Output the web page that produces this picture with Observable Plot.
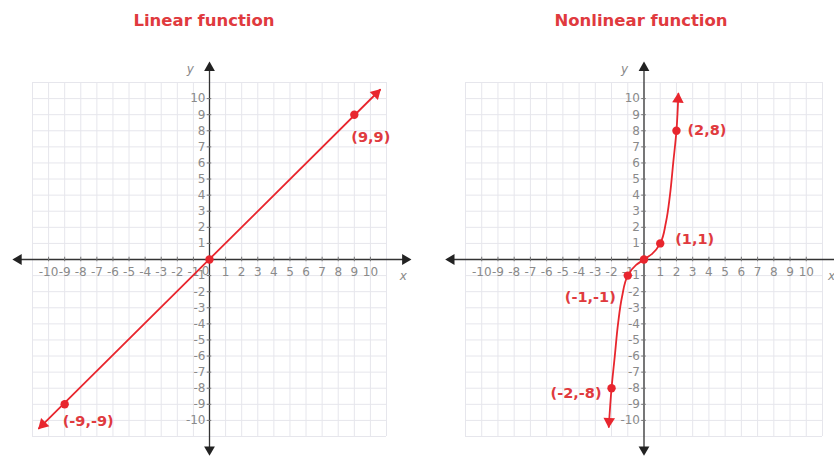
<!DOCTYPE html>
<html>
<head>
<meta charset="utf-8">
<script src="https://cdn.jsdelivr.net/npm/d3@7"></script>
<script src="https://cdn.jsdelivr.net/npm/@observablehq/plot@0.6"></script>
<style>
  html, body { margin: 0; padding: 0; background: #fff; }
  #wrap { position: relative; width: 834px; height: 457px; overflow: hidden; }
  .panel { position: absolute; top: 0; width: 417px; height: 457px; }
  .panel svg { position: absolute; top: 40px; left: 0; }
  .title {
    position: absolute; top: 11px; width: 240px; text-align: center;
    font: bold 16.5px "DejaVu Sans", Verdana, sans-serif; color: #e03a3e;
  }
</style>
</head>
<body>
<div id="wrap"></div>
<script>
// Panel titles
const titles = ["Linear function", "Nonlinear function"];

// Axis ticks and grid lines (integer units)
const tickValues = [-10, -9, -8, -7, -6, -5, -4, -3, -2, -1, 1, 2, 3, 4, 5, 6, 7, 8, 9, 10];
const gridValues = [-11, -10, -9, -8, -7, -6, -5, -4, -3, -2, -1, 0, 1, 2, 3, 4, 5, 6, 7, 8, 9, 10, 11];

// Linear function y = x: drawn segment and labelled points
const linearX = [-10.6, 10.6];
const linearY = [-10.5, 10.55];
const linearPtX = [-9, 0, 9];
const linearPtY = [-9, 0, 9];
const linearLabels = ["(-9,-9)", "", "(9,9)"];

// Nonlinear function: curve samples and labelled points
const cubicX = [-2.17, -2, -1.8, -1.6, -1.35, -1, -0.5, 0, 0.5, 1, 1.35, 1.6, 1.8, 2, 2.12];
const cubicY = [-10.4, -8, -6, -4, -2.3, -1, -0.35, 0, 0.35, 1, 2.3, 4, 6, 8, 10.3];
const cubicPtX = [-2, -1, 0, 1, 2];
const cubicPtY = [-8, -1, 0, 1, 8];
const cubicLabels = ["(-2,-8)", "(-1,-1)", "", "(1,1)", "(2,8)"];

const RED = "#e8262e";
const LABEL_RED = "#e03a3e";
const GRAY = "#8a8a8a";
const fontFamily = '"DejaVu Sans", Verdana, sans-serif';

// Arrowhead triangle centred a few pixels behind its tip
function head(tipX, tipY, angleDeg, pxPerUnitX, pxPerUnitY, back = 6.2) {
  const a = angleDeg * Math.PI / 180;
  return {x: tipX - Math.sin(a) * back / pxPerUnitX, y: tipY - Math.cos(a) * back / pxPerUnitY, angle: angleDeg};
}

function panel({left, titleCenter, marginLeft, marginRight, title, showZero, xNameX, curve, curveType, points, labelOffsets, redHeads}) {
  const width = 417, height = 417, marginTop = 42, marginBottom = 21;
  const pxX = (width - marginLeft - marginRight) / 22;
  const pxY = (height - marginTop - marginBottom) / 22;

  const axisHeads = [
    head(12.55, 0, 90, pxX, pxY),
    head(-12.25, 0, 270, pxX, pxY),
    head(0, 12.3, 0, pxX, pxY),
    head(0, -12.2, 180, pxX, pxY)
  ];
  const reds = redHeads.map(([x, y, a]) => head(x, y, a, pxX, pxY, 5.5));

  const tickText = {fill: GRAY, fontSize: 12, letterSpacing: -1};

  const chart = Plot.plot({
    width, height, marginLeft, marginRight, marginTop, marginBottom,
    style: {background: "transparent", fontFamily},
    x: {domain: [-11, 11], axis: null},
    y: {domain: [-11, 11], axis: null},
    marks: [
      // light unit grid
      Plot.ruleX(gridValues, {x: d => d, y1: -11, y2: 11, stroke: "#e6e6ec", strokeWidth: 1}),
      Plot.ruleY(gridValues, {y: d => d, x1: -11, x2: 11, stroke: "#e6e6ec", strokeWidth: 1}),
      // axes
      Plot.ruleY([0], {x1: -12.0, x2: 12.4, stroke: "#333", strokeWidth: 1.3}),
      Plot.ruleX([0], {y1: -12.0, y2: 12.1, stroke: "#333", strokeWidth: 1.3}),
      Plot.ruleX(tickValues, {x: d => d, y1: -0.14, y2: 0.14, stroke: "#777", strokeWidth: 1}),
      Plot.ruleY(tickValues, {y: d => d, x1: -0.14, x2: 0.14, stroke: "#777", strokeWidth: 1}),
      Plot.dot(axisHeads, {x: "x", y: "y", rotate: "angle", symbol: "triangle", r: 4, fill: "#222", stroke: "none"}),
      // tick labels
      Plot.text(tickValues, {x: d => d, y: 0, text: d => String(d), dy: 13, ...tickText}),
      showZero ? Plot.text([0], {x: d => d, y: 0, text: d => String(d), dy: 12, dx: -4, ...tickText}) : null,
      Plot.text(tickValues, {x: 0, y: d => d, text: d => String(d), dx: -4, textAnchor: "end", ...tickText}),
      // axis names
      Plot.text(["y"], {x: -1.2, y: 11.85, text: d => d, fill: GRAY, fontSize: 12, fontStyle: "italic"}),
      Plot.text(["x"], {x: xNameX, y: -1.05, text: d => d, fill: GRAY, fontSize: 12, fontStyle: "italic"}),
      // function curve
      Plot.line(curve.x.map((x, i) => ({x, y: curve.y[i]})), {x: "x", y: "y", stroke: RED, strokeWidth: 1.8, curve: curveType}),
      Plot.dot(reds, {x: "x", y: "y", rotate: "angle", symbol: "triangle", r: 4.3, fill: RED, stroke: "none"}),
      // marked points and their labels
      Plot.dot(points.x.map((x, i) => ({x, y: points.y[i]})), {x: "x", y: "y", r: 4.2, fill: RED, stroke: "none"}),
      ...points.x.map((x, i) => points.labels[i] ? Plot.text([{x, y: points.y[i], t: points.labels[i]}], {
        x: "x", y: "y", text: "t", dx: labelOffsets[i][0], dy: labelOffsets[i][1], textAnchor: labelOffsets[i][2],
        fill: LABEL_RED, fontSize: 14.5, fontWeight: "bold"
      }) : null).filter(Boolean)
    ].filter(Boolean)
  });

  const div = document.createElement("div");
  div.className = "panel";
  div.style.left = left + "px";
  const t = document.createElement("div");
  t.className = "title";
  t.textContent = title;
  t.style.left = (titleCenter - 120) + "px";
  div.appendChild(t);
  div.appendChild(chart);
  return div;
}

const wrap = document.getElementById("wrap");

wrap.appendChild(panel({
  left: 0, titleCenter: 204, marginLeft: 32, marginRight: 31, title: titles[0], showZero: true, xNameX: 12.05,
  curve: {x: linearX, y: linearY}, curveType: "linear",
  points: {x: linearPtX, y: linearPtY, labels: linearLabels},
  labelOffsets: [[-2, 17, "start"], null, [-3, 23, "start"]],
  redHeads: [[linearX[1], linearY[1], 45], [linearX[0], linearY[0], 225]]
}));

wrap.appendChild(panel({
  left: 417, titleCenter: 224, marginLeft: 48, marginRight: 12, title: titles[1], showZero: false, xNameX: 11.55,
  curve: {x: cubicX, y: cubicY}, curveType: "monotone-y",
  points: {x: cubicPtX, y: cubicPtY, labels: cubicLabels},
  labelOffsets: [[-10, 5, "end"], [-12, 22, "end"], null, [15, -4, "start"], [11, 0, "start"]],
  redHeads: [[cubicX[cubicX.length - 1], cubicY[cubicY.length - 1], 3], [cubicX[0], cubicY[0], 183]]
}));
</script>
</body>
</html>
